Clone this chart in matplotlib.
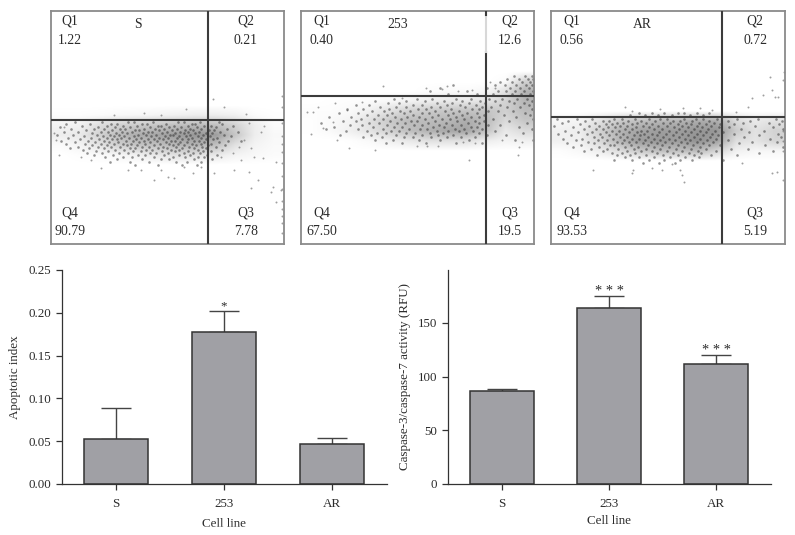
import numpy as np
import matplotlib.pyplot as plt
from matplotlib.patches import Rectangle

plt.rcParams['font.family'] = ['Liberation Serif', 'DejaVu Serif']

W, H = 795, 535

# flow cytometry panels, coordinates are pixels inside each frame
panel_names = ["S", "253", "AR"]
q1_vals = ["1.22", "0.40", "0.56"]
q2_vals = ["0.21", "12.6", "0.72"]
q3_vals = ["7.78", "19.5", "5.19"]
q4_vals = ["90.79", "67.50", "93.53"]
gate_x = [157, 185, 171]
gate_y = [109, 85, 106]

# hand read density of the clouds, 12 columns across the frame
density_s = [
    [.00, .00, .00, .00, .00, .00, .00, .00, .00, .00, .00, .00],
    [.02, .02, .03, .05, .06, .08, .10, .12, .12, .10, .03, .01],
    [.08, .10, .22, .30, .35, .38, .42, .45, .42, .30, .12, .03],
    [.12, .15, .30, .45, .55, .60, .65, .70, .65, .38, .12, .05],
    [.03, .08, .18, .32, .40, .42, .48, .50, .42, .20, .08, .04],
    [.00, .02, .04, .06, .10, .16, .20, .20, .15, .08, .05, .03],
    [.00, .00, .00, .00, .00, .00, .00, .00, .00, .00, .00, .00],
]
density_253 = [
    [.00, .00, .00, .00, .00, .00, .00, .00, .00, .00, .00, .00],
    [.00, .00, .00, .00, .00, .00, .00, .00, .00, .00, .03, .30],
    [.00, .00, .00, .00, .00, .00, .02, .04, .03, .06, .20, .50],
    [.00, .01, .02, .03, .05, .08, .12, .15, .15, .18, .30, .50],
    [.02, .02, .04, .10, .20, .30, .35, .38, .40, .40, .32, .45],
    [.01, .04, .08, .20, .35, .45, .45, .48, .55, .45, .25, .38],
    [.01, .04, .10, .18, .30, .42, .50, .58, .60, .40, .15, .25],
    [.00, .00, .01, .04, .10, .15, .20, .20, .20, .12, .08, .10],
    [.00, .00, .00, .00, .00, .00, .00, .00, .00, .00, .00, .00],
]
density_ar = [
    [.00, .00, .00, .00, .00, .00, .00, .00, .00, .00, .00, .00],
    [.06, .08, .20, .35, .42, .48, .50, .55, .55, .25, .15, .20],
    [.10, .12, .30, .50, .60, .65, .65, .70, .70, .35, .20, .30],
    [.10, .10, .25, .48, .65, .68, .65, .72, .62, .22, .18, .28],
    [.02, .05, .12, .22, .35, .42, .42, .45, .28, .10, .06, .06],
    [.00, .00, .00, .00, .00, .00, .00, .00, .00, .00, .00, .00],
]
density_top = [89, 55, 95]
densities = [density_s, density_253, density_ar]

# stray events
stray_s_x = [162, 173, 195, 135, 93, 110, 63, 103, 90, 142, 50, 183, 163, 198, 207, 200, 220, 222, 230, 225, 225, 212,
             210, 198, 213, 188, 193, 200, 203, 182, 190, 5, 8, 13, 3, 30, 40, 77, 117, 123, 110, 133, 150, 170,
             231, 231, 231, 231, 231, 231, 231, 231, 231, 231, 231, 231, 231, 231]
stray_s_y = [88, 96, 103, 98, 102, 104, 104, 169, 159, 162, 157, 159, 162, 161, 169, 177, 181, 176, 179, 191, 151, 147,
             121, 112, 115, 136, 129, 137, 146, 142, 149, 129, 144, 116, 122, 146, 149, 159, 166, 167, 159, 156, 156, 146,
             85, 96, 112, 125, 133, 141, 152, 165, 178, 190, 198, 205, 212, 222]
stray_253_x = [82, 125, 141, 146, 157, 171, 101, 6, 17, 12, 34, 46, 61, 10, 22, 36, 32, 48, 74, 168, 116, 126, 137, 162,
               174, 201, 217, 218, 221, 189, 194]
stray_253_y = [75, 77, 78, 75, 80, 79, 87, 101, 96, 101, 92, 99, 91, 123, 117, 129, 111, 137, 139, 149, 135, 135, 135, 131,
               132, 129, 144, 136, 131, 71, 77]
stray_ar_x = [74, 81, 109, 149, 161, 132, 185, 197, 201, 212, 221, 224, 227, 219, 232, 233, 42, 81, 82, 101, 111, 129,
              133, 131, 121, 221, 226, 191, 232, 232, 232, 232]
stray_ar_y = [96, 100, 98, 97, 99, 97, 101, 96, 87, 84, 79, 86, 86, 66, 69, 61, 159, 162, 159, 157, 159, 159,
              171, 164, 153, 162, 161, 152, 169, 120, 130, 140]
strays = [(stray_s_x, stray_s_y), (stray_253_x, stray_253_y), (stray_ar_x, stray_ar_y)]

# events in the clouds, one x list per row of the frame
rows_s = [
    (111, [24, 51, 77, 83, 102, 127, 133, 149, 168]),
    (113, [15, 39, 60, 66, 91, 96, 115, 141, 144, 171]),
    (115, [31, 56, 72, 86, 107, 110, 123, 137, 153, 160, 182]),
    (116, [9, 47, 64, 79, 99, 118, 130, 146, 165]),
    (118, [20, 43, 53, 69, 74, 93, 104, 113, 126, 139, 150, 176]),
    (119, [35, 61, 84, 88, 108, 121, 134, 142, 158, 163]),
    (121, [13, 27, 50, 57, 71, 81, 97, 101, 116, 129, 137, 148, 169, 187]),
    (122, [41, 65, 76, 92, 111, 124, 133, 144, 155, 161]),
    (124, [6, 22, 46, 59, 68, 87, 95, 105, 119, 122, 139, 152, 173]),
    (125, [33, 52, 63, 73, 83, 100, 114, 128, 135, 147, 159, 180]),
    (127, [17, 40, 56, 70, 78, 90, 108, 117, 126, 141, 150, 166]),
    (128, [29, 48, 61, 66, 85, 97, 103, 112, 131, 137, 155, 162]),
    (130, [10, 37, 53, 75, 82, 93, 106, 120, 124, 143, 148, 177, 190]),
    (131, [24, 44, 58, 67, 88, 99, 115, 129, 136, 153, 168]),
    (133, [15, 34, 50, 63, 72, 80, 94, 109, 118, 127, 141, 150, 160]),
    (134, [41, 56, 76, 86, 103, 122, 133, 145, 157, 174]),
    (136, [27, 47, 60, 69, 91, 98, 112, 125, 138, 151, 165]),
    (137, [19, 38, 53, 79, 84, 107, 116, 131, 143, 155]),
    (139, [32, 64, 73, 95, 101, 120, 128, 147, 171]),
    (140, [45, 57, 82, 90, 111, 124, 137, 152, 160]),
    (142, [36, 51, 68, 77, 99, 105, 117, 133, 142, 149]),
    (144, [43, 62, 87, 94, 113, 128, 139, 156, 166]),
    (146, [54, 72, 81, 103, 122, 134, 147, 153]),
    (148, [66, 91, 110, 118, 143, 161]),
    (151, [59, 79, 98, 125, 136, 150]),
    (154, [84, 107, 131, 146]),
]
rows_253 = [
    (65, [213, 224, 231]),
    (68, [206, 218, 227, 232]),
    (71, [199, 211, 221, 229]),
    (74, [152, 194, 204, 215, 225, 231]),
    (77, [139, 186, 209, 219, 228]),
    (80, [129, 166, 197, 205, 214, 223, 232]),
    (83, [147, 176, 192, 211, 220, 229]),
    (88, [93, 116, 131, 155, 170, 188, 201, 216, 226]),
    (90, [74, 105, 124, 143, 161, 179, 194, 208, 231]),
    (92, [87, 98, 136, 151, 168, 184, 213, 223]),
    (94, [55, 68, 112, 121, 146, 159, 175, 199, 228]),
    (96, [79, 95, 105, 130, 139, 164, 181, 190, 206, 219]),
    (98, [46, 62, 88, 117, 125, 150, 171, 178, 231]),
    (100, [71, 83, 99, 109, 134, 144, 158, 187, 197, 212]),
    (102, [38, 57, 91, 103, 121, 128, 152, 166, 176, 224]),
    (104, [66, 77, 86, 112, 137, 147, 161, 183, 203, 229]),
    (106, [28, 50, 94, 106, 118, 131, 155, 170, 178, 215]),
    (108, [60, 73, 82, 100, 124, 141, 149, 163, 192, 232]),
    (110, [42, 55, 89, 110, 116, 134, 156, 174, 183, 208]),
    (112, [20, 68, 78, 96, 104, 127, 145, 167, 178, 226]),
    (114, [49, 61, 86, 113, 121, 138, 151, 160, 187, 199]),
    (116, [33, 72, 93, 101, 132, 143, 170, 176, 218]),
    (118, [25, 57, 82, 108, 119, 126, 154, 163, 181, 231]),
    (120, [45, 66, 90, 98, 136, 147, 158, 172, 194]),
    (122, [76, 85, 105, 114, 129, 142, 165, 178, 222]),
    (124, [39, 70, 95, 121, 137, 152, 186, 205]),
    (126, [62, 81, 103, 112, 130, 146, 160, 174]),
    (129, [74, 92, 118, 139, 168, 214, 232]),
    (132, [85, 101, 125, 155, 181]),
]
rows_ar = [
    (102, [88, 101, 113, 127, 133, 146, 158]),
    (104, [79, 94, 107, 121, 139, 152]),
    (108, [6, 26, 41, 63, 71, 84, 98, 109, 116, 133, 145, 152, 166, 186, 207, 225]),
    (110, [17, 34, 52, 58, 77, 90, 104, 122, 129, 141, 158, 177, 199, 231]),
    (112, [11, 44, 66, 72, 86, 95, 112, 119, 135, 148, 163, 192, 218]),
    (113, [29, 55, 61, 81, 101, 127, 140, 155, 169, 183, 228]),
    (115, [3, 38, 48, 69, 76, 92, 107, 116, 131, 146, 160, 204]),
    (116, [22, 57, 64, 85, 98, 123, 137, 151, 168, 178, 222]),
    (118, [33, 45, 52, 74, 81, 103, 111, 128, 143, 157, 190, 232]),
    (120, [14, 61, 68, 90, 96, 118, 134, 149, 164, 213]),
    (121, [27, 41, 55, 78, 86, 108, 125, 140, 155, 172, 198]),
    (123, [7, 36, 49, 65, 72, 93, 101, 115, 131, 146, 161, 183, 227]),
    (124, [20, 58, 83, 89, 106, 122, 137, 152, 167, 208]),
    (126, [43, 51, 69, 76, 97, 112, 128, 143, 159, 193, 230]),
    (128, [12, 31, 62, 81, 88, 103, 118, 134, 149, 165, 219]),
    (129, [25, 47, 56, 73, 94, 109, 124, 139, 156, 177]),
    (131, [37, 66, 78, 85, 100, 114, 130, 146, 162, 201, 226]),
    (132, [16, 43, 53, 71, 92, 106, 121, 136, 152, 188]),
    (134, [30, 59, 63, 80, 97, 111, 127, 142, 158, 169, 214]),
    (136, [22, 48, 74, 87, 103, 118, 133, 149, 232]),
    (138, [40, 56, 67, 83, 95, 109, 125, 140, 155, 180, 197]),
    (140, [33, 52, 76, 90, 101, 116, 131, 147, 165, 222]),
    (142, [61, 71, 84, 106, 122, 138, 150, 208]),
    (144, [46, 66, 79, 95, 112, 127, 143, 160, 186]),
    (146, [74, 88, 103, 119, 134, 148]),
    (149, [63, 81, 98, 113, 129, 141, 172]),
    (152, [92, 108, 124]),
]
cloud_rows = [rows_s, rows_253, rows_ar]

# bar charts
cell_lines = ["S", "253", "AR"]
apoptotic_mean = [0.052, 0.178, 0.047]
apoptotic_err = [0.0365, 0.024, 0.007]
apoptotic_ticks = [0.00, 0.05, 0.10, 0.15, 0.20, 0.25]
caspase_mean = [87, 164, 112]
caspase_err = [1.5, 11, 8]
caspase_ticks = [0, 50, 100, 150]

fig = plt.figure(figsize=(W / 100, H / 100), dpi=100)
txt = '#2b2b2b'
bar_col = '#a0a0a5'
edge = '#333333'
fs = 9.4


def add_ax(x0, y0, x1, y1):
    # pixel box, y measured from the top of the image
    return fig.add_axes([x0 / W, 1 - y1 / H, (x1 - x0) / W, (y1 - y0) / H])


boxes = [(51, 11, 284, 244), (301, 11, 534, 244), (551, 11, 785, 244)]
q_left = [19, 21, 21]
q_right = [195, 209, 204]
name_x = [87, 97, 91]

for i, box in enumerate(boxes):
    ax = add_ax(*box)
    w = box[2] - box[0]
    h = box[3] - box[1]
    rows = len(densities[i])
    ax.imshow(densities[i], cmap='gray_r', vmin=0, vmax=1.7, interpolation='bilinear', aspect='auto',
              extent=(0, w, density_top[i] + rows * 10, density_top[i]), zorder=1)
    ax.scatter(strays[i][0], strays[i][1], s=2, color='#777777', alpha=0.7, linewidths=0, zorder=2)
    cx = [v for y, xs in cloud_rows[i] for v in xs]
    cy = [y for y, xs in cloud_rows[i] for v in xs]
    ax.scatter(cx, cy, s=3.5, color='#2a2a2a', alpha=0.5, linewidths=0, zorder=2)
    ax.set_xlim(0, w)
    ax.set_ylim(h, 0)
    ax.set_xticks([])
    ax.set_yticks([])
    for s in ax.spines.values():
        s.set_color('#8a8a8a')
        s.set_linewidth(1.3)
    ax.axhline(gate_y[i], color='#3c3c3c', lw=1.5, zorder=3)
    if i == 1:
        # the gate line fades out near the top of this panel
        ax.plot([gate_x[i], gate_x[i]], [41, h], color='#3c3c3c', lw=1.5, zorder=3)
        ax.plot([gate_x[i], gate_x[i]], [4, 41], color='#d8d8d8', lw=1.5, zorder=3)
        ax.plot([gate_x[i], gate_x[i]], [0, 4], color='#3c3c3c', lw=1.5, zorder=3)
    else:
        ax.axvline(gate_x[i], color='#3c3c3c', lw=1.5, zorder=3)
    kw = dict(ha='center', va='center', fontsize=fs + 0.5, color=txt, zorder=4)
    ax.text(q_left[i], 10, "Q1", **kw)
    ax.text(q_left[i], 30, q1_vals[i], **kw)
    ax.text(q_right[i], 10, "Q2", **kw)
    ax.text(q_right[i], 30, q2_vals[i], **kw)
    ax.text(q_left[i], 202, "Q4", **kw)
    ax.text(q_left[i], 221, q4_vals[i], **kw)
    ax.text(q_right[i], 202, "Q3", **kw)
    ax.text(q_right[i], 221, q3_vals[i], **kw)
    ax.text(name_x[i], 14, panel_names[i], **kw)


def bar_panel(box, xlim, ylim, means, errs, ticks, fmt):
    ax = add_ax(*box)
    x = np.arange(len(cell_lines))
    ax.bar(x, means, width=0.59, color=bar_col, edgecolor=edge, linewidth=1.1, zorder=2)
    ax.errorbar(x, means, yerr=[[0] * len(x), errs], fmt='none', ecolor='#444444', elinewidth=1, capsize=11,
                capthick=1, zorder=1)
    ax.set_xlim(*xlim)
    ax.set_ylim(*ylim)
    ax.set_xticks(x)
    ax.set_xticklabels(cell_lines)
    ax.set_yticks(ticks)
    ax.set_yticklabels([fmt % t for t in ticks])
    ax.spines['top'].set_visible(False)
    ax.spines['right'].set_visible(False)
    for s in ['left', 'bottom']:
        ax.spines[s].set_color(edge)
        ax.spines[s].set_linewidth(0.9)
    ax.tick_params(axis='both', labelsize=fs, length=4, width=0.9, color=edge, labelcolor=txt, pad=4)
    ax.tick_params(axis='x', pad=6)
    ax.patch.set_alpha(0)
    return ax


ax1 = bar_panel((62, 270, 387, 484), (-0.5, 2.51), (0, 0.25), apoptotic_mean, apoptotic_err, apoptotic_ticks, '%.2f')
ax2 = bar_panel((448, 270, 771, 484), (-0.505, 2.514), (0, 199.3), caspase_mean, caspase_err, caspase_ticks, '%d')

ax1.text(1, 0.2, "*", ha='center', va='bottom', fontsize=fs, color=txt)
ax2.text(1, 173, "* * *", ha='center', va='bottom', fontsize=fs + 1, color=txt)
ax2.text(2, 118, "* * *", ha='center', va='bottom', fontsize=fs + 1, color=txt)

fig.text(15 / W, 1 - 377 / H, "Apoptotic index", rotation=90, ha='center', va='center', fontsize=fs, color=txt)
fig.text(405 / W, 1 - 377 / H, "Caspase-3/caspase-7 activity (RFU)", rotation=90, ha='center', va='center',
         fontsize=fs, color=txt)
fig.text(224 / W, 1 - 524 / H, "Cell line", ha='center', va='center', fontsize=fs, color=txt)
fig.text(609 / W, 1 - 521 / H, "Cell line", ha='center', va='center', fontsize=fs, color=txt)
# the left axis label is cut off at the bottom in the source
fig.add_artist(Rectangle((0, 0), 390 / W, 8 / H, transform=fig.transFigure, color='white', zorder=10))

fig.savefig('out.png', dpi=100)
